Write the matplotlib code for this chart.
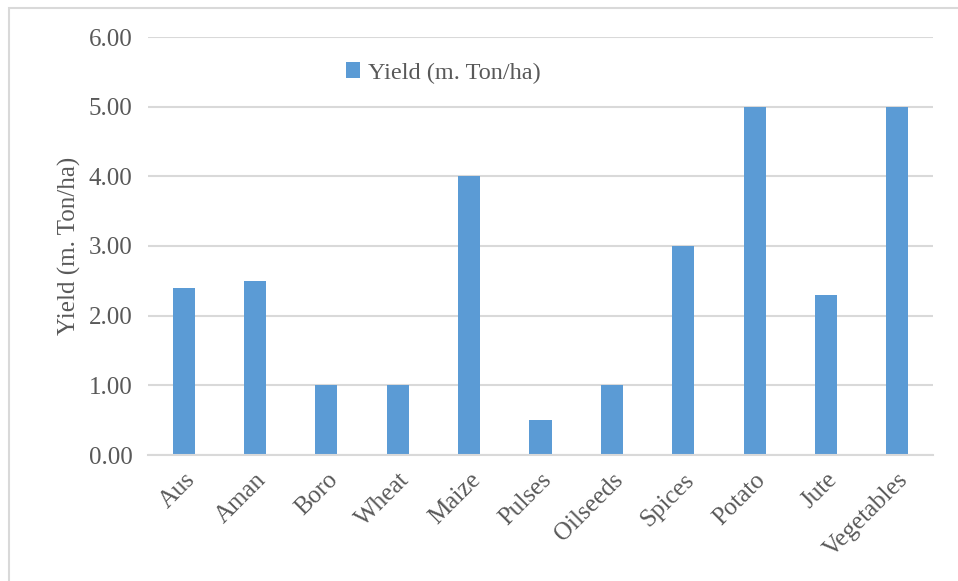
import matplotlib.pyplot as plt
from matplotlib.patches import Rectangle

crops = ["Aus", "Aman", "Boro", "Wheat", "Maize", "Pulses", "Oilseeds",
         "Spices", "Potato", "Jute", "Vegetables"]
yield_t_ha = [2.4, 2.5, 1.0, 1.0, 4.0, 0.5, 1.0, 3.0, 5.0, 2.3, 5.0]
y_ticks = [0, 1, 2, 3, 4, 5, 6]

plt.rcParams["font.family"] = ["Liberation Serif", "DejaVu Serif"]
TEXT = "#595959"
GRID = "#d9d9d9"
BAR = "#5b9bd5"

fig = plt.figure(figsize=(9.58, 5.81), dpi=100)
# light outer frame like the chart area border
fig.patches.append(Rectangle((9 / 958, -0.1), 1.2, (581 - 8) / 581 + 0.1,
                             transform=fig.transFigure, fill=False,
                             edgecolor=GRID, linewidth=1.5))

ax = fig.add_axes([148 / 958, 126 / 581, 785 / 958, 418 / 581])
x = range(len(crops))
ax.bar(x, yield_t_ha, width=0.31, color=BAR, label="Yield (m. Ton/ha)",
       zorder=3)

ax.set_xlim(-0.5, len(crops) - 0.5)
ax.set_ylim(0, 6)
ax.set_yticks(y_ticks)
ax.set_yticklabels([f"{v:.2f}" for v in y_ticks], fontsize=18, color=TEXT)
ax.set_xticks(list(x))
ax.set_xticklabels(crops, rotation=45, ha="right", rotation_mode="anchor",
                   fontsize=18, color=TEXT)
ax.tick_params(length=0)
ax.tick_params(axis="y", pad=11)
ax.tick_params(axis="x", pad=10)
ax.yaxis.grid(True, color=GRID, linewidth=1.5, zorder=0)
for s in ["top", "right", "left"]:
    ax.spines[s].set_visible(False)
ax.spines["bottom"].set_color(GRID)
ax.spines["bottom"].set_linewidth(1.5)
ax.spines["bottom"].set_zorder(4)

ax.set_ylabel("Yield (m. Ton/ha)", fontsize=18, color=TEXT, labelpad=6)
ax.legend(loc="center", bbox_to_anchor=(0.376, 0.914), frameon=False,
          fontsize=17.5, labelcolor=TEXT, handlelength=0.6, handleheight=0.6,
          handletextpad=0.3)

fig.savefig("out.png", dpi=100)
